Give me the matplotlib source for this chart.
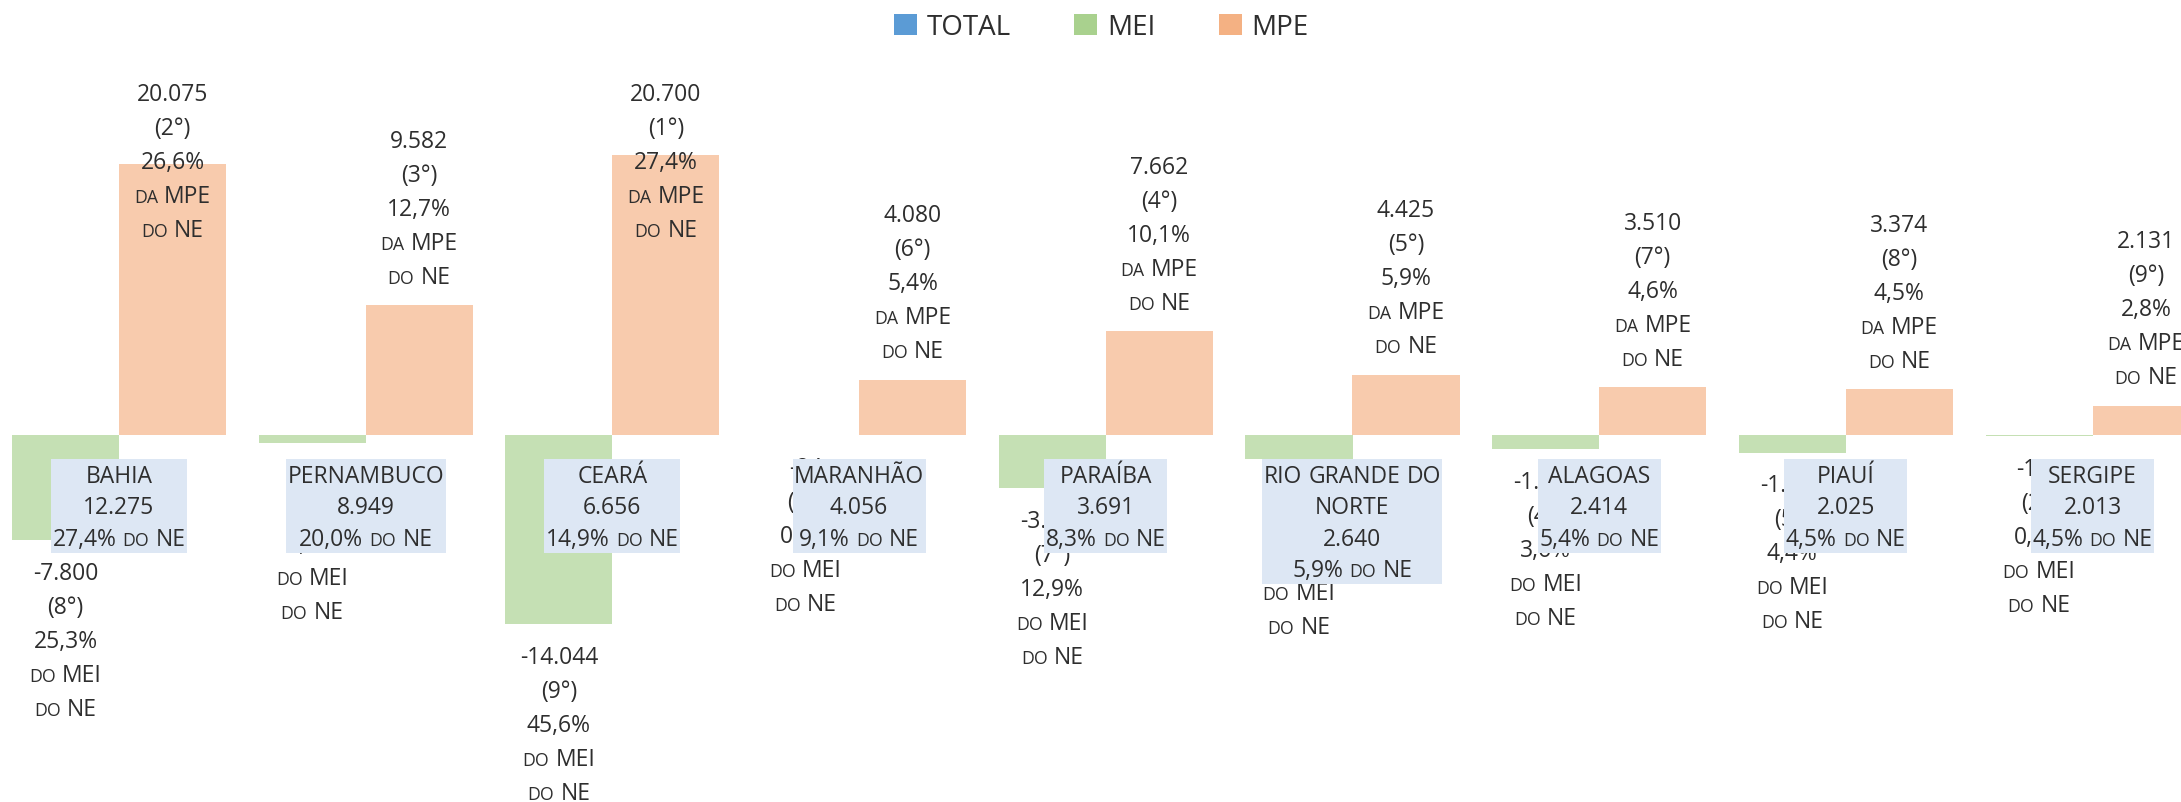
import matplotlib
matplotlib.use("Agg")
import numpy as np
import matplotlib.pyplot as plt
from matplotlib.patches import Patch, Rectangle
from matplotlib.offsetbox import TextArea, HPacker, AnnotationBbox

plt.rcParams["font.family"] = ["Open Sans", "DejaVu Sans"]

# dados (saldo por estado do NE)
estados = ["BAHIA", "PERNAMBUCO", "CEARÁ", "MARANHÃO", "PARAÍBA",
           "RIO GRANDE DO\nNORTE", "ALAGOAS", "PIAUÍ", "SERGIPE"]
total = [12275, 8949, 6656, 4056, 3691, 2640, 2414, 2025, 2013]
total_pct = ["27,4%", "20,0%", "14,9%", "9,1%", "8,3%", "5,9%", "5,4%", "4,5%", "4,5%"]
mei = [-7800, -633, -14044, -24, -3971, -1785, -1096, -1349, -118]
mei_rank = [8, 3, 9, 1, 7, 6, 4, 5, 2]
mei_pct = ["25,3%", "2,1%", "45,6%", "0,1%", "12,9%", "5,8%", "3,6%", "4,4%", "0,4%"]
mpe = [20075, 9582, 20700, 4080, 7662, 4425, 3510, 3374, 2131]
mpe_rank = [2, 3, 1, 6, 4, 5, 7, 8, 9]
mpe_pct = ["26,6%", "12,7%", "27,4%", "5,4%", "10,1%", "5,9%", "4,6%", "4,5%", "2,8%"]
series = ["TOTAL", "MEI", "MPE"]

COR_MEI = "#c5e0b4"
COR_MPE = "#f8cbad"
COR_CAIXA = "#dde7f4"
COR_TEXTO = "#2e2e2e"
LEG_CORES = ["#5b9bd5", "#a9d18e", "#f4b183"]

W, H = 2181, 803
GRUPO = 246.7          # px entre grupos
X0, X1 = -119 / GRUPO, (W - 119) / GRUPO
Y_TOP, Y_BOT = 32274, -27207
PX = (Y_TOP - Y_BOT) / H   # unidades por pixel (vertical)
LARG = 0.434
FS = 16.5
FS_SC = 12.8


def br(v):
    return f"{v:,}".replace(",", ".")


def linha(ax, x, y, texto, z=5):
    # palavras minusculas viram versalete
    partes = []
    for w in texto.split(" "):
        small = w.islower()
        partes.append(TextArea(w.upper(), textprops=dict(size=FS_SC if small else FS,
                                                         color=COR_TEXTO)))
    box = HPacker(children=partes, align="baseline", pad=0, sep=4.5)
    ab = AnnotationBbox(box, (x, y), xycoords="data", frameon=False,
                        box_alignment=(0.5, 0.5), pad=0, zorder=z)
    ax.add_artist(ab)
    return ab


fig = plt.figure(figsize=(W / 100, H / 100), dpi=100)
ax = fig.add_axes([0, 0, 1, 1])
ax.set_xlim(X0, X1)
ax.set_ylim(Y_BOT, Y_TOP)
ax.axis("off")

x = np.arange(len(estados))
ax.bar(x - LARG / 2, mei, width=LARG, color=COR_MEI, zorder=2)
ax.bar(x + LARG / 2, mpe, width=LARG, color=COR_MPE, zorder=2)

PASSO = 34 * PX
TETO = Y_TOP - 94.6 * PX

for i in range(len(estados)):
    # rotulos MPE
    txt = [br(mpe[i]), f"({mpe_rank[i]}°)", mpe_pct[i], "da MPE", "do NE"]
    topo = mpe[i] + 28.5 * PX + 4 * PASSO
    topo = min(topo, TETO)
    for k, t in enumerate(txt):
        linha(ax, i + LARG / 2, topo - k * PASSO, t, z=5)
    # rotulos MEI
    txt = [br(mei[i]), f"({mei_rank[i]}°)", mei_pct[i], "do MEI", "do NE"]
    y0 = mei[i] - 32.5 * PX
    for k, t in enumerate(txt):
        linha(ax, i - LARG / 2, y0 - k * PASSO, t, z=3)

# caixas do TOTAL
caixas = []
CX_TOPO = -(460 - 435.7) * PX
for i in range(len(estados)):
    txt = estados[i].split("\n") + [br(total[i]), f"{total_pct[i]} do NE"]
    linhas = []
    for k, t in enumerate(txt):
        yk = CX_TOPO - 16.7 * PX - k * 31.5 * PX
        linhas.append(linha(ax, i, yk, t, z=6))
    caixas.append((i, yk, linhas))

fig.canvas.draw()
r = fig.canvas.get_renderer()
for i, ylast, linhas in caixas:
    wpx = max(l.get_window_extent(r).width for l in linhas) + 3
    wd = wpx / GRUPO
    base = ylast - 14 * PX
    ax.add_patch(Rectangle((i - wd / 2, base), wd, CX_TOPO - base,
                           facecolor=COR_CAIXA, edgecolor="none", zorder=4))

handles = [Patch(facecolor=c, edgecolor="none") for c in LEG_CORES]
fig.legend(handles, series, loc="center", bbox_to_anchor=(0.505, 0.965), ncol=3,
           frameon=False, fontsize=20, handlelength=0.82, handleheight=0.82,
           handletextpad=0.35, columnspacing=2.3, labelcolor=COR_TEXTO)

fig.savefig("out.png", dpi=100)
